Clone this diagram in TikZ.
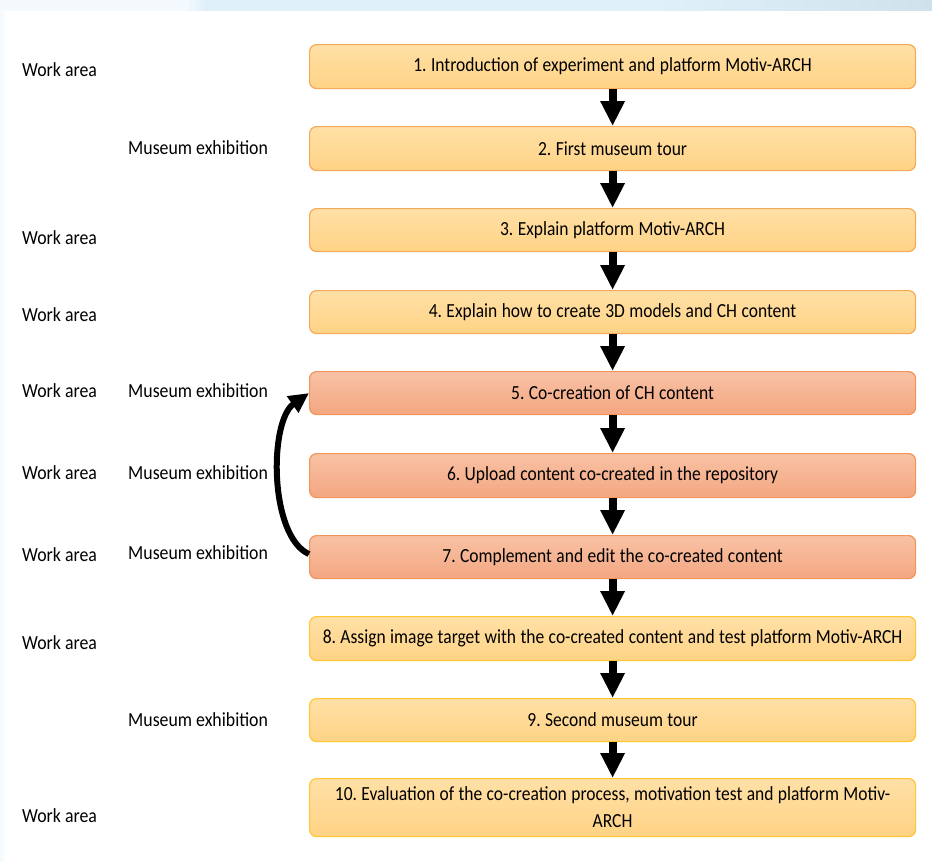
\documentclass[tikz,border=0pt]{standalone}
\usepackage{fontspec}
\setmainfont{Carlito}[FakeStretch=0.89]
\newfontfamily\boxfam{Carlito}[FakeStretch=0.875]
\usetikzlibrary{arrows.meta,positioning}
\definecolor{yfillT}{HTML}{FFE0A6}
\definecolor{yfillB}{HTML}{FFD385}
\definecolor{yedgeA}{HTML}{F6A95B}
\definecolor{yedgeB}{HTML}{FFC633}
\definecolor{sfillT}{HTML}{F8C2A5}
\definecolor{sfillB}{HTML}{F4A681}
\definecolor{sedge}{HTML}{F29558}
\definecolor{bgA}{HTML}{F4F9FD}
\definecolor{bgB}{HTML}{E0F0F9}
\definecolor{bgC}{HTML}{CFE2EC}
\definecolor{bgD}{HTML}{EEF5FC}
\pgfdeclarehorizontalshading{topband}{100bp}{color(0bp)=(bgA); color(35bp)=(bgA); color(36bp)=(bgB); color(60bp)=(bgB); color(75bp)=(bgC); color(88bp)=(bgB); color(100bp)=(bgD)}
\newcommand\diagfont{\fontsize{20}{23}\selectfont}
\newcommand\boxfont{\boxfam\fontsize{20}{27}\selectfont}
\newcommand\tightspaces{\frenchspacing\spaceskip=4.4pt minus 0.6pt\relax}
\tikzset{
  boxbase/.style={font=\boxfont, execute at begin node=\tightspaces, rounded corners=7pt, minimum width=606pt, text width=604pt, align=center, line width=1.2pt, anchor=north west, inner sep=0pt},
  ybox/.style={boxbase, draw=yedgeA, top color=yfillT, bottom color=yfillB},
  gbox/.style={boxbase, draw=yedgeB, top color=yfillT, bottom color=yfillB},
  sbox/.style={boxbase, draw=sedge, top color=sfillT, bottom color=sfillB},
  lbl/.style={font=\diagfont, anchor=west, inner sep=0pt},
  flow/.style={line width=8pt, -{Triangle[length=25pt,width=23pt]}},
  loopar/.style={line width=6pt, -{Triangle[length=20pt,width=19pt]}}
}
\begin{document}
\begin{tikzpicture}[x=1pt,y=-1pt]
\useasboundingbox (0,0) rectangle (932,862);
\fill[white] (0,0) rectangle (932,862);
\shade[shading=topband] (0,0) rectangle (932,10);
\shade[left color=bgA, right color=white] (0,10) rectangle (7,862);
% boxes
\node[ybox, minimum height=44pt] (b1) at (309,44) {1. Introduction of experiment and platform Motiv-ARCH};
\node[ybox, minimum height=44pt] (b2) at (309,126) {2. First museum tour};
\node[ybox, minimum height=43pt] (b3) at (309,208) {3. Explain platform Motiv-ARCH};
\node[ybox, minimum height=43pt] (b4) at (309,290) {4. Explain how to create 3D models and CH content};
\node[sbox, minimum height=43pt] (b5) at (309,371) {5. Co-creation of CH content};
\node[sbox, minimum height=44pt] (b6) at (309,453) {6. Upload content co-created in the repository};
\node[sbox, minimum height=43pt] (b7) at (309,535) {7. Complement and edit the co-created content};
\node[gbox, minimum height=44pt] (b8) at (309,616) {8. Assign image target with the co-created content and test platform Motiv-ARCH};
\node[gbox, minimum height=43pt] (b9) at (309,698) {9. Second museum tour};
\node[gbox, minimum height=58pt] (b10) at (309,778) {10. Evaluation of the co-creation process, motivation test and platform Motiv-\\ARCH};
% arrows
\foreach \a/\b in {b1/b2,b2/b3,b3/b4,b4/b5,b5/b6,b6/b7,b7/b8,b8/b9,b9/b10}
  \draw[flow] (\a.south) -- (\b.north);
\coordinate (ls) at ([yshift=3pt]b7.west);
\coordinate (le) at (b5.west);
\draw[loopar] (ls) .. controls ++(-40,-18) and ++(-40,28) .. (le);
% labels
\node[lbl] (w1) at (22,70) {Work area};
\node[lbl] (m2) at (128,148) {Museum exhibition};
\node[lbl] (w3) at (22,238) {Work area};
\node[lbl] (w4) at (22,315) {Work area};
\node[lbl] (w5) at (22,391) {Work area};
\node[lbl] (m5) at (128,391) {Museum exhibition};
\node[lbl] (w6) at (22,473) {Work area};
\node[lbl] (m6) at (128,473) {Museum exhibition};
\node[lbl] (w7) at (22,555) {Work area};
\node[lbl] (m7) at (128,553) {Museum exhibition};
\node[lbl] (w8) at (22,643) {Work area};
\node[lbl] (m9) at (128,720) {Museum exhibition};
\node[lbl] (w10) at (22,816) {Work area};
\end{tikzpicture}
\end{document}
